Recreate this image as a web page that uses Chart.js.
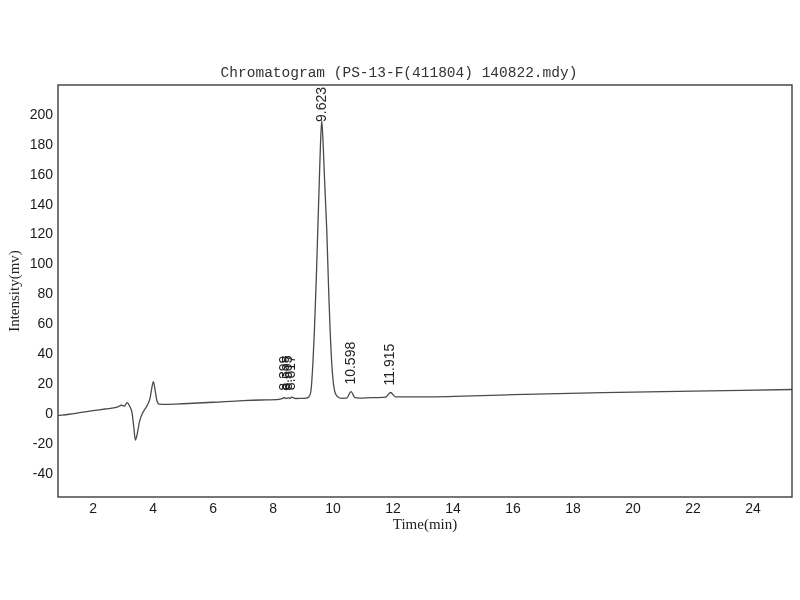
<!DOCTYPE html>
<html>
<head>
<meta charset="utf-8">
<script src="https://cdn.jsdelivr.net/npm/chart.js@4/dist/chart.umd.min.js"></script>
<style>
  html, body { margin: 0; padding: 0; background: #ffffff; }
  #wrap { width: 800px; height: 600px; position: relative; }
</style>
</head>
<body>
<div id="wrap"><canvas id="c" width="800" height="600"></canvas></div>
<script>
// ---- Data ----
const chartTitle = "Chromatogram (PS-13-F(411804) 140822.mdy)";
const xAxisTitle = "Time(min)";
const yAxisTitle = "Intensity(mv)";

const times = [
  0.83, 1.2, 1.6, 2.0, 2.4, 2.8, 2.95, 3.05, 3.13, 3.22, 3.3, 3.36, 3.41, 3.47, 3.55, 3.65,
  3.79, 3.9, 3.96, 4.01, 4.07, 4.13, 4.2, 4.5, 5.0, 6.0, 7.0, 7.6, 8.2,
  8.399, 8.45, 8.505, 8.56, 8.617, 8.75, 8.95, 9.1, 9.2, 9.27, 9.33, 9.38, 9.44, 9.49,
  9.54, 9.58, 9.623, 9.67, 9.72, 9.79, 9.85, 9.9, 9.97, 10.04, 10.15, 10.3, 10.45,
  10.598, 10.72, 10.9, 11.3, 11.75, 11.915, 12.08, 13.0, 16.0, 19.0, 22.0, 25.3
];
const intensity = [
  -0.7, 0.2, 1.4, 2.6, 3.7, 4.9, 6.2, 5.6, 8.0, 5.5, 1.0, -9.0, -17.0, -13.0, -4.5, 1.0,
  5.6, 11.0, 18.0, 22.0, 16.0, 9.0, 7.0, 6.8, 7.2, 8.2, 9.3, 9.7, 10.1,
  11.2, 10.6, 11.3, 10.7, 11.6, 10.7, 10.8, 11.0, 12.0, 17.0, 35.0, 57.0, 90.0, 123.0,
  155.0, 180.0, 196.0, 180.0, 155.0, 123.0, 85.0, 57.0, 30.0, 17.0, 12.0, 10.8, 10.9,
  15.3, 11.5, 11.0, 11.3, 11.6, 14.7, 11.8, 11.8, 13.3, 14.6, 15.6, 16.7
];

const peakTimes  = [8.399, 8.505, 8.617, 9.623, 10.598, 11.915];
const peakLabels = ["8.399", "8.505", "8.617", "9.623", "10.598", "11.915"];

const xMin = 0.83, xMax = 25.3, xStep = 2;
const yMin = -55, yMax = 219.8, yStep = 20;

// ---- Build chart ----
const points = times.map((t, i) => ({ x: t, y: intensity[i] }));

const frameAndText = {
  id: 'frameAndText',
  beforeDraw(chart) {
    const ctx = chart.ctx;
    ctx.save();
    ctx.fillStyle = '#ffffff';
    ctx.fillRect(0, 0, chart.width, chart.height);
    ctx.restore();
  },
  afterDraw(chart) {
    const ctx = chart.ctx;
    const a = chart.chartArea;
    ctx.save();
    // frame
    ctx.strokeStyle = '#3c3c3c';
    ctx.lineWidth = 1.4;
    ctx.strokeRect(a.left, a.top, a.right - a.left, a.bottom - a.top);
    // title
    ctx.fillStyle = '#333333';
    ctx.font = '14.5px "Liberation Mono", "DejaVu Sans Mono", monospace';
    ctx.textAlign = 'center';
    ctx.textBaseline = 'middle';
    ctx.fillText(chartTitle, 399, 73);
    // peak labels (rotated, reading bottom to top, kept inside the plot)
    const xs = chart.scales.x, ys = chart.scales.y;
    ctx.font = '14px "Liberation Sans", Arial, sans-serif';
    ctx.fillStyle = '#222222';
    ctx.textAlign = 'left';
    ctx.textBaseline = 'middle';
    peakTimes.forEach((t, i) => {
      const idx = times.indexOf(t);
      const v = intensity[idx];
      const px = xs.getPixelForValue(t);
      const py = ys.getPixelForValue(v);
      const w = ctx.measureText(peakLabels[i]).width;
      const start = Math.max(py - 7, a.top + w + 2);
      ctx.save();
      ctx.translate(px, start);
      ctx.rotate(-Math.PI / 2);
      ctx.fillText(peakLabels[i], 0, 0);
      ctx.restore();
    });
    ctx.restore();
  }
};

new Chart(document.getElementById('c'), {
  type: 'line',
  data: {
    datasets: [{
      data: points,
      borderColor: '#4a4a4a',
      borderWidth: 1.3,
      pointRadius: 0,
      fill: false,
      cubicInterpolationMode: 'monotone'
    }]
  },
  options: {
    responsive: false,
    animation: false,
    devicePixelRatio: 1,
    layout: { padding: { left: 0, right: 8, top: 85, bottom: 63 } },
    plugins: {
      legend: { display: false },
      title: { display: false },
      tooltip: { enabled: false }
    },
    scales: {
      x: {
        type: 'linear',
        min: xMin, max: xMax,
        grid: { display: false, drawTicks: false },
        border: { display: false },
        ticks: {
          stepSize: xStep, includeBounds: false, padding: 4,
          color: '#1a1a1a', maxRotation: 0,
          font: { family: '"Liberation Sans", Arial, sans-serif', size: 14 }
        },
        title: {
          display: true, text: xAxisTitle, color: '#222222',
          padding: { top: 0, bottom: 3 },
          font: { family: '"Liberation Serif", "Times New Roman", serif', size: 15 }
        },
        afterFit(scale) { scale.height = 40; }
      },
      y: {
        type: 'linear',
        min: yMin, max: yMax,
        grid: { display: false, drawTicks: false },
        border: { display: false },
        ticks: {
          stepSize: yStep, includeBounds: false, padding: 5,
          color: '#1a1a1a',
          font: { family: '"Liberation Sans", Arial, sans-serif', size: 14 }
        },
        title: {
          display: true, text: yAxisTitle, color: '#222222',
          padding: { top: 6, bottom: 0 },
          font: { family: '"Liberation Serif", "Times New Roman", serif', size: 15 }
        },
        afterFit(scale) { scale.width = 58; }
      }
    }
  },
  plugins: [frameAndText]
});
</script>
</body>
</html>
